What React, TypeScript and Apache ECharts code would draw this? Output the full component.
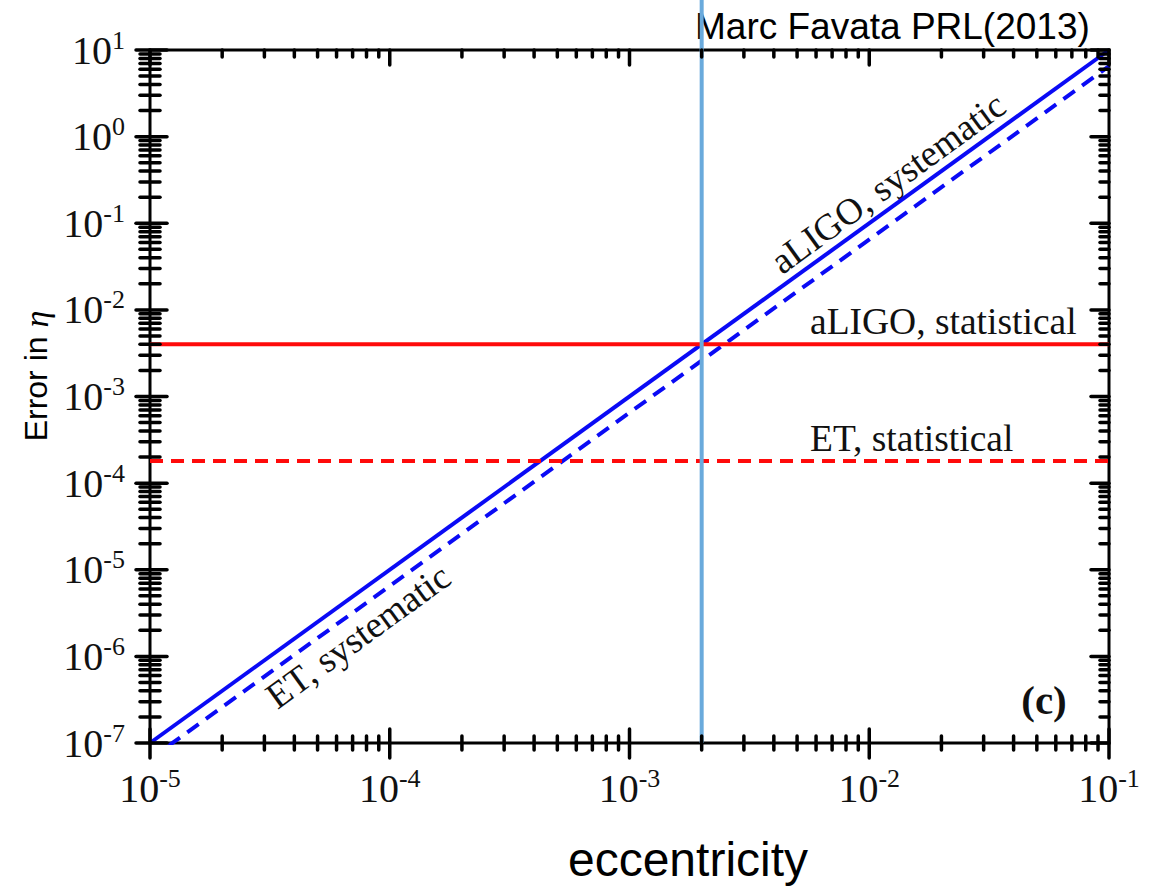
import React, { useEffect, useRef } from "react";
import * as echarts from "echarts";

// ---- data ----
const xDecades = [-5, -4, -3, -2, -1];
const yDecades = [-7, -6, -5, -4, -3, -2, -1, 0, 1];
const minorMultipliers = [2, 3, 4, 5, 6, 7, 8, 9];

const X_MIN = 1e-5;
const X_MAX = 1e-1;
const Y_MIN = 1e-7;
const Y_MAX = 1e1;

// systematic error vs eccentricity (log-log, slope 2)
const aligoSystematic: [number, number][] = [
  [1e-5, 1e-7],
  [1e-1, 1e1],
];
const etSystematic: [number, number][] = [
  [1e-5, 6.5e-8],
  [1e-1, 6.5],
];
const aligoStatistical: [number, number][] = [
  [1e-5, 4e-3],
  [1e-1, 4e-3],
];
const etStatistical: [number, number][] = [
  [1e-5, 1.8e-4],
  [1e-1, 1.8e-4],
];
const eccentricityMarker: [number, number][] = [
  [2e-3, 1e-7],
  [2e-3, 45],
];

const SERIF = "'Liberation Serif', 'Times New Roman', serif";
const SANS = "'Liberation Sans', Arial, Helvetica, sans-serif";

function buildTicks() {
  // [x, y, side(0 bottom,1 top,2 left,3 right), major]
  const ticks: number[][] = [];
  xDecades.forEach((d, i) => {
    const base = Math.pow(10, d);
    ticks.push([base, Y_MIN, 0, 1], [base, Y_MAX, 1, 1]);
    if (i < xDecades.length - 1) {
      minorMultipliers.forEach((m) => {
        ticks.push([m * base, Y_MIN, 0, 0], [m * base, Y_MAX, 1, 0]);
      });
    }
  });
  yDecades.forEach((d, i) => {
    const base = Math.pow(10, d);
    ticks.push([X_MIN, base, 2, 1], [X_MAX, base, 3, 1]);
    if (i < yDecades.length - 1) {
      minorMultipliers.forEach((m) => {
        ticks.push([X_MIN, m * base, 2, 0], [X_MAX, m * base, 3, 0]);
      });
    }
  });
  return ticks;
}

const labelFormatter = (v: number) => {
  const e = Math.round(Math.log10(v));
  return `{b|10}{s|${e}}`;
};

const labelRich = {
  b: { fontFamily: SERIF, fontSize: 40, color: "#111", lineHeight: 46 },
  s: {
    fontFamily: SERIF,
    fontSize: 26,
    color: "#111",
    lineHeight: 24,
    verticalAlign: "top",
  },
};

export default function App() {
  const ref = useRef<HTMLDivElement>(null);

  useEffect(() => {
    if (!ref.current) return;
    const chart = echarts.init(ref.current, undefined, { renderer: "svg" });

    const option: any = {
      animation: false,
      backgroundColor: "#fff",
      grid: {
        left: 150,
        top: 50,
        right: 44,
        bottom: 143,
        show: true,
        borderColor: "#000",
        borderWidth: 3,
        backgroundColor: "transparent",
      },
      xAxis: {
        type: "log",
        logBase: 10,
        min: X_MIN,
        max: X_MAX,
        interval: 1,
        axisLine: { show: false },
        axisTick: { show: false },
        splitLine: { show: false },
        axisLabel: {
          margin: 22,
          formatter: labelFormatter,
          rich: labelRich,
        },
      },
      yAxis: {
        type: "log",
        logBase: 10,
        min: Y_MIN,
        max: Y_MAX,
        interval: 1,
        axisLine: { show: false },
        axisTick: { show: false },
        splitLine: { show: false },
        axisLabel: {
          margin: 25,
          formatter: labelFormatter,
          rich: labelRich,
        },
      },
      series: [
        {
          type: "line",
          data: aligoSystematic,
          symbol: "none",
          lineStyle: { color: "#0a0af5", width: 4 },
          z: 3,
        },
        {
          type: "line",
          data: etSystematic,
          symbol: "none",
          lineStyle: { color: "#0a0af5", width: 4, type: [14, 9] },
          z: 3,
        },
        {
          type: "line",
          data: aligoStatistical,
          symbol: "none",
          lineStyle: { color: "#ff0a0a", width: 4 },
          z: 4,
        },
        {
          type: "line",
          data: etStatistical,
          symbol: "none",
          lineStyle: { color: "#ff0a0a", width: 4, type: [13, 8] },
          z: 4,
        },
        {
          type: "line",
          data: eccentricityMarker,
          symbol: "none",
          clip: false,
          lineStyle: { color: "#6aaadc", width: 4 },
          z: 5,
        },
        {
          type: "custom",
          data: buildTicks(),
          clip: false,
          z: 6,
          silent: true,
          renderItem: (params: any, api: any) => {
            const x = api.value(0);
            const y = api.value(1);
            const side = api.value(2);
            const major = api.value(3) === 1;
            const p = api.coord([x, y]);
            let shape: any;
            if (side === 0) {
              shape = major
                ? { x1: p[0], y1: p[1] - 14, x2: p[0], y2: p[1] + 15 }
                : { x1: p[0], y1: p[1] - 7, x2: p[0], y2: p[1] + 7 };
            } else if (side === 1) {
              shape = { x1: p[0], y1: p[1], x2: p[0], y2: p[1] + (major ? 15 : 7) };
            } else if (side === 2) {
              shape = major
                ? { x1: p[0] - 14, y1: p[1], x2: p[0] + 17, y2: p[1] }
                : { x1: p[0] - 10, y1: p[1], x2: p[0] + 10, y2: p[1] };
            } else {
              shape = { x1: p[0] - (major ? 18 : 9), y1: p[1], x2: p[0], y2: p[1] };
            }
            return {
              type: "line",
              shape,
              style: { stroke: "#000", lineWidth: 3.5, lineCap: "round" },
            };
          },
        },
      ],
      graphic: [
        {
          type: "text",
          x: 695,
          y: 26,
          style: {
            text: "Marc Favata PRL(2013)",
            fontFamily: SANS,
            fontSize: 37,
            fill: "#000",
            align: "left",
            verticalAlign: "middle",
          },
        },
        {
          type: "text",
          x: 688,
          y: 859,
          style: {
            text: "eccentricity",
            fontFamily: SANS,
            fontSize: 48,
            fill: "#000",
            align: "center",
            verticalAlign: "middle",
          },
        },
        {
          type: "text",
          x: 36,
          y: 376,
          rotation: Math.PI / 2,
          style: {
            text: "{a|Error in }{e|η}",
            align: "center",
            verticalAlign: "middle",
            rich: {
              a: { fontFamily: SANS, fontSize: 32, fill: "#000" },
              e: {
                fontFamily: SERIF,
                fontStyle: "italic",
                fontSize: 34,
                fill: "#000",
              },
            },
          },
        },
        {
          type: "text",
          x: 810,
          y: 321,
          style: {
            text: "aLIGO, statistical",
            fontFamily: SERIF,
            fontSize: 37.5,
            fill: "#111",
            align: "left",
            verticalAlign: "middle",
          },
        },
        {
          type: "text",
          x: 810,
          y: 438,
          style: {
            text: "ET, statistical",
            fontFamily: SERIF,
            fontSize: 37.5,
            fill: "#111",
            align: "left",
            verticalAlign: "middle",
          },
        },
        {
          type: "text",
          x: 888,
          y: 183,
          rotation: (36 * Math.PI) / 180,
          style: {
            text: "aLIGO, systematic",
            fontFamily: SERIF,
            fontSize: 37,
            fill: "#111",
            align: "center",
            verticalAlign: "middle",
          },
        },
        {
          type: "text",
          x: 358,
          y: 636,
          rotation: (36 * Math.PI) / 180,
          style: {
            text: "ET, systematic",
            fontFamily: SERIF,
            fontSize: 37,
            fill: "#111",
            align: "center",
            verticalAlign: "middle",
          },
        },
        {
          type: "text",
          x: 1044,
          y: 700,
          style: {
            text: "(c)",
            fontFamily: SERIF,
            fontSize: 41,
            fontWeight: "bold",
            fill: "#111",
            align: "center",
            verticalAlign: "middle",
          },
        },
      ],
    };

    chart.setOption(option);
    return () => chart.dispose();
  }, []);

  return (
    <div
      ref={ref}
      style={{
        position: "absolute",
        left: 0,
        top: 0,
        width: 1153,
        height: 886,
        background: "#fff",
      }}
    />
  );
}
